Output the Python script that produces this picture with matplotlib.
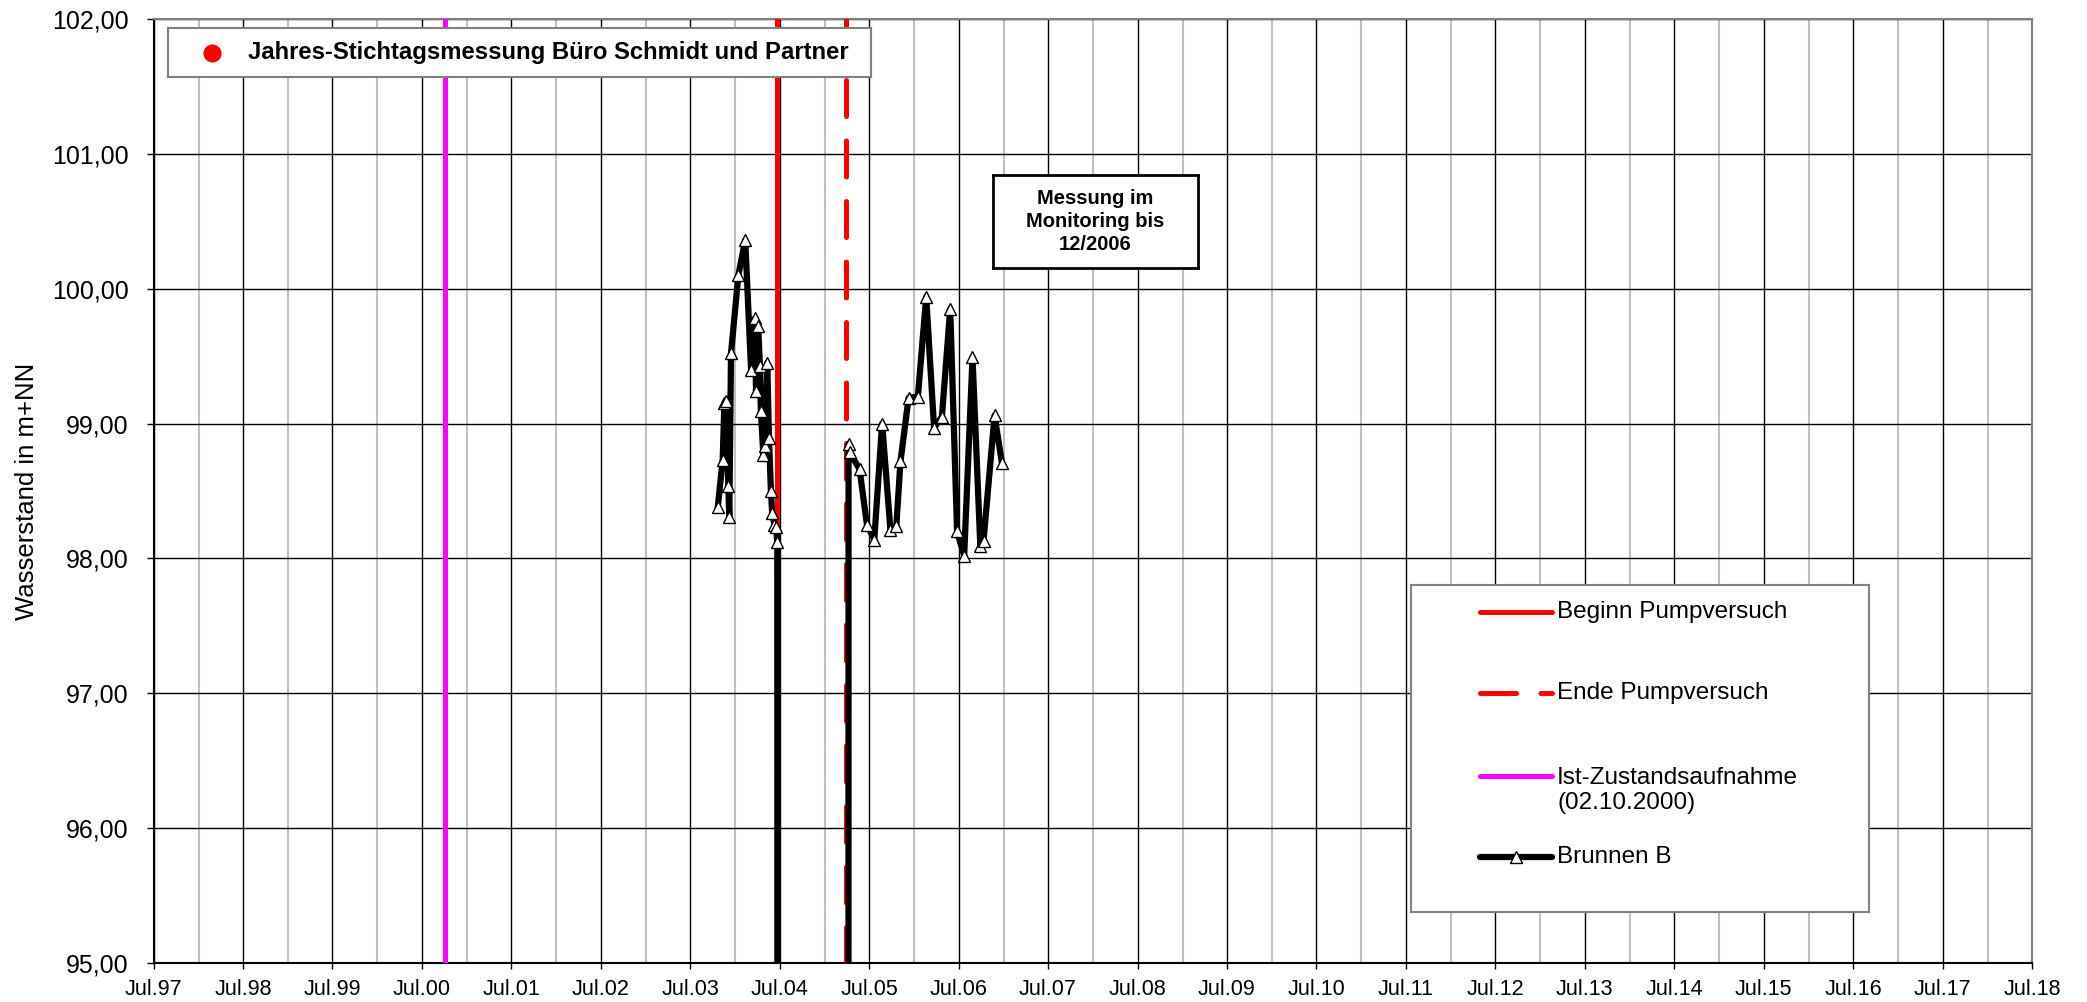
import numpy as np
import pandas as pd
import matplotlib
matplotlib.use('Agg')
import matplotlib.pyplot as plt
import matplotlib.dates as mdates
from matplotlib.ticker import FuncFormatter, MultipleLocator

plt.rcParams['font.family'] = ['Liberation Sans', 'DejaVu Sans']

# Brunnen B - Wasserstand (m+NN); values below 95 are off-chart during the pump test
brunnen_dates = [
    '2003-10-22', '2003-11-11', '2003-11-18', '2003-11-25', '2003-12-04',
    '2003-12-08', '2003-12-15', '2004-01-14', '2004-02-11', '2004-03-06',
    '2004-03-22', '2004-03-26', '2004-04-04', '2004-04-11', '2004-04-15',
    '2004-04-25', '2004-05-02', '2004-05-11', '2004-05-18', '2004-05-26',
    '2004-05-31', '2004-06-09', '2004-06-16', '2004-06-21', '2004-06-22',
    '2005-04-07', '2005-04-08', '2005-04-12', '2005-05-23', '2005-06-22',
    '2005-07-22', '2005-08-23', '2005-09-26', '2005-10-20', '2005-11-06',
    '2005-12-09', '2006-01-16', '2006-02-19', '2006-03-23', '2006-04-24',
    '2006-05-28', '2006-06-25', '2006-07-24', '2006-08-27', '2006-09-28',
    '2006-10-11', '2006-11-25', '2006-12-25',
]
brunnen_values = [
    98.38, 98.73, 99.15, 99.17, 98.54,
    98.31, 99.52, 100.10, 100.36, 99.40,
    99.78, 99.24, 99.72, 99.43, 99.09,
    98.77, 98.83, 99.45, 98.89, 98.50,
    98.34, 98.25, 98.23, 98.12, 90.00,
    90.00, 98.85, 98.79, 98.66, 98.25,
    98.14, 99.00, 98.21, 98.24, 98.72,
    99.19, 99.20, 99.94, 98.97, 99.05,
    99.85, 98.20, 98.02, 99.49, 98.09,
    98.13, 99.06, 98.71,
]

# event markers
ist_zustand = '2000-10-02'
beginn_pv = '2004-06-18'
ende_pv = '2005-03-30'

x_start, x_end = '1997-07-01', '2018-07-01'
y_min, y_max = 95, 102

legend_labels = ['Beginn Pumpversuch', 'Ende Pumpversuch',
                 'Ist-Zustandsaufnahme\n(02.10.2000)', 'Brunnen B']
top_legend_label = 'Jahres-Stichtagsmessung Büro Schmidt und Partner'
note_text = 'Messung im\nMonitoring bis\n12/2006'

W, H = 2087, 1002
fig = plt.figure(figsize=(W / 100, H / 100), dpi=100)

def box(x0, y0, x1, y1):
    # pixel box (top-left origin) -> figure fraction rect
    return [x0 / W, 1 - y1 / H, (x1 - x0) / W, (y1 - y0) / H]

ax = fig.add_axes(box(153.5, 19, 2032, 963))

dates = pd.to_datetime(brunnen_dates)

ax.axvline(pd.Timestamp(ist_zustand), color='#FF00FF', lw=3.6, zorder=3)
ax.axvline(pd.Timestamp(beginn_pv), color='#FF0000', lw=3.6, zorder=3)
ax.axvline(pd.Timestamp(ende_pv), color='#FF0000', lw=3.6, zorder=3,
           dashes=(7.2, 4.9), dash_capstyle='round')
ax.plot(dates, brunnen_values, color='black', lw=4.5, marker='^', ms=8,
        mfc='white', mec='black', mew=1, zorder=4)

ax.set_xlim(pd.Timestamp(x_start), pd.Timestamp(x_end))
ax.set_ylim(y_min, y_max)

ax.xaxis.set_major_locator(mdates.MonthLocator(bymonth=7))
ax.xaxis.set_minor_locator(mdates.MonthLocator(bymonth=1))
ax.xaxis.set_major_formatter(mdates.DateFormatter('%b.%y'))
ax.yaxis.set_major_locator(MultipleLocator(1))
ax.yaxis.set_major_formatter(FuncFormatter(lambda v, p: f'{v:.2f}'.replace('.', ',')))

ax.grid(True, which='major', axis='both', color='black', lw=1)
ax.grid(True, which='minor', axis='x', color='#c0c0c0', lw=1.5)
ax.set_axisbelow(True)

ax.tick_params(axis='x', which='major', direction='out', length=4.5, width=1,
               labelsize=15.5, pad=7)
ax.tick_params(axis='x', which='minor', length=0)
ax.tick_params(axis='y', direction='out', length=5, width=1, labelsize=18, pad=13)

for side in ['top', 'right']:
    ax.spines[side].set_color('#808080')
    ax.spines[side].set_linewidth(1.5)
for side in ['left', 'bottom']:
    ax.spines[side].set_color('black')
    ax.spines[side].set_linewidth(1.5)

ax.set_ylabel('Wasserstand in m+NN', fontsize=18.5)
ax.yaxis.set_label_coords(-0.061, 0.5)

# upper legend box
lax = fig.add_axes(box(168, 28, 871, 77))
lax.set_xlim(0, 1)
lax.set_ylim(0, 1)
lax.set_xticks([])
lax.set_yticks([])
for s in lax.spines.values():
    s.set_color('#808080')
    s.set_linewidth(1.5)
lax.plot([0.063], [0.5], 'o', color='#FF0000', ms=12)
lax.text(0.114, 0.5, top_legend_label, fontsize=17.2, fontweight='bold',
         va='center', ha='left')

# note box
nax = fig.add_axes(box(993, 175, 1198, 268))
nax.set_xticks([])
nax.set_yticks([])
for s in nax.spines.values():
    s.set_color('black')
    s.set_linewidth(2)
nax.text(0.5, 0.5, note_text, fontsize=14.5, fontweight='bold',
         ha='center', va='center', linespacing=1.3, transform=nax.transAxes)

# lower legend box
gax = fig.add_axes(box(1411, 585, 1869, 912))
gax.set_xlim(0, 1)
gax.set_ylim(0, 1)
gax.set_xticks([])
gax.set_yticks([])
for s in gax.spines.values():
    s.set_color('#808080')
    s.set_linewidth(1.5)

rows = [0.917, 0.670, 0.416, 0.168]
hx = [0.151, 0.308]
gax.plot(hx, [rows[0]] * 2, color='#FF0000', lw=3.6, solid_capstyle='round')
gax.plot(hx, [rows[1]] * 2, color='#FF0000', lw=3.6, dashes=(7.2, 4.9),
         dash_capstyle='round')
gax.plot(hx, [rows[2]] * 2, color='#FF00FF', lw=3.6, solid_capstyle='round')
gax.plot(hx, [rows[3]] * 2, color='black', lw=4.5, solid_capstyle='round')
gax.plot([np.mean(hx)], [rows[3]], marker='^', ms=8, mfc='white', mec='black', mew=1)
for lab, ry in zip(legend_labels, rows):
    if '\n' in lab:
        gax.text(0.319, ry + 0.027, lab, fontsize=17.5, va='top', ha='left',
                 linespacing=1.15)
    else:
        gax.text(0.319, ry, lab, fontsize=17.5, va='center', ha='left')

fig.savefig('out.png', dpi=100)
